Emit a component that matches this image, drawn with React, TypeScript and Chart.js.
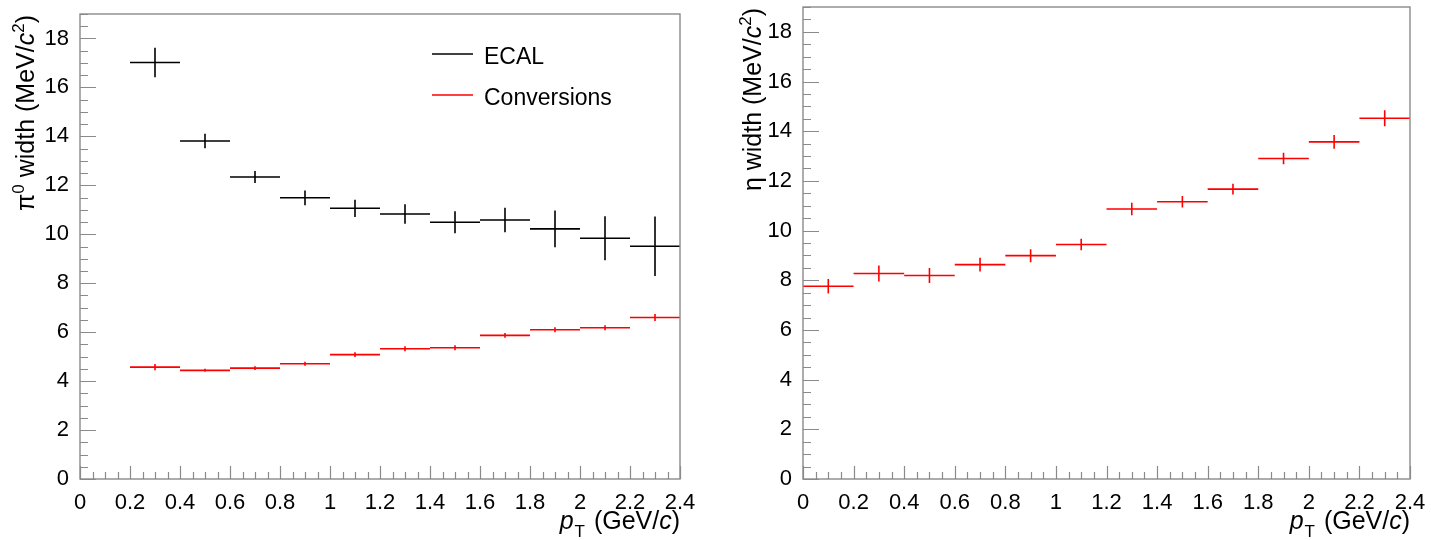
import React, { useEffect, useRef } from "react";
import { Chart, registerables } from "chart.js";

Chart.register(...registerables);

// ---------------- data ----------------
const binHalfWidth = 0.1;

const xTickValues = [0, 0.2, 0.4, 0.6, 0.8, 1, 1.2, 1.4, 1.6, 1.8, 2, 2.2, 2.4];
const xTickLabels = ["0", "0.2", "0.4", "0.6", "0.8", "1", "1.2", "1.4", "1.6", "1.8", "2", "2.2", "2.4"];
const yTickValues = [0, 2, 4, 6, 8, 10, 12, 14, 16, 18];
const yTickLabels = ["0", "2", "4", "6", "8", "10", "12", "14", "16", "18"];
const xMinorStep = 0.05;
const yMinorStep = 0.5;
const xMax = 2.4;
const yMax = 19;

const seriesLabels = ["ECAL", "Conversions"];

const pi0Pt = [0.3, 0.5, 0.7, 0.9, 1.1, 1.3, 1.5, 1.7, 1.9, 2.1, 2.3];
const ecalWidth = [17.02, 13.81, 12.34, 11.49, 11.06, 10.83, 10.49, 10.58, 10.22, 9.84, 9.51];
const ecalErr = [0.6, 0.3, 0.25, 0.3, 0.35, 0.4, 0.45, 0.5, 0.75, 0.9, 1.22];
const convWidth = [4.57, 4.44, 4.53, 4.71, 5.08, 5.32, 5.36, 5.87, 6.1, 6.18, 6.6];
const convErr = [0.13, 0.06, 0.08, 0.08, 0.1, 0.1, 0.1, 0.1, 0.1, 0.1, 0.14];

const etaPt = [0.1, 0.3, 0.5, 0.7, 0.9, 1.1, 1.3, 1.5, 1.7, 1.9, 2.1, 2.3];
const etaWidth = [7.76, 8.27, 8.19, 8.63, 8.99, 9.44, 10.87, 11.16, 11.67, 12.9, 13.57, 14.52];
const etaErr = [0.29, 0.32, 0.3, 0.28, 0.26, 0.23, 0.25, 0.23, 0.22, 0.23, 0.28, 0.32];

// ---------------- style ----------------
const FONT = '"Liberation Sans", Arial, Helvetica, sans-serif';
const FRAME_COLOR = "#8a8a8a";
const BLACK = "#000000";
const RED = "#ff0000";

type Seg = { t: string; s?: "i" | "sup" | "sub"; gap?: number };

const pi0Title: Seg[] = [
  { t: "\u03c0" },
  { t: "0", s: "sup" },
  { t: " width (MeV/" },
  { t: "c", s: "i" },
  { t: "2", s: "sup" },
  { t: ")" },
];
const etaTitle: Seg[] = [
  { t: "\u03b7 width (MeV/" },
  { t: "c", s: "i" },
  { t: "2", s: "sup" },
  { t: ")" },
];
const ptTitle: Seg[] = [
  { t: "p", s: "i", gap: 1 },
  { t: "T", s: "sub", gap: 2 },
  { t: " (GeV/" },
  { t: "c", s: "i" },
  { t: ")" },
];

function segFont(size: number, s?: string) {
  const sz = s === "sup" || s === "sub" ? Math.round(size * 0.68) : size;
  return `${s === "i" ? "italic " : ""}${sz}px ${FONT}`;
}

function drawRich(ctx: CanvasRenderingContext2D, segs: Seg[], size: number, xEnd: number, yBase: number) {
  const widths = segs.map((g) => {
    ctx.font = segFont(size, g.s);
    return ctx.measureText(g.t).width + (g.gap || 0);
  });
  const total = widths.reduce((a, b) => a + b, 0);
  let x = xEnd - total;
  ctx.textAlign = "left";
  ctx.textBaseline = "alphabetic";
  segs.forEach((g, i) => {
    ctx.font = segFont(size, g.s);
    const dy = g.s === "sup" ? -size * 0.42 : g.s === "sub" ? size * 0.3 : 0;
    ctx.fillText(g.t, x, yBase + dy);
    x += widths[i];
  });
}

function errorBarPoints(xs: number[], ys: number[], es: number[]) {
  const pts: { x: number; y: number | null }[] = [];
  xs.forEach((x, i) => {
    pts.push({ x: x - binHalfWidth, y: ys[i] });
    pts.push({ x: x + binHalfWidth, y: ys[i] });
    pts.push({ x: x + binHalfWidth, y: null });
    pts.push({ x, y: ys[i] - es[i] });
    pts.push({ x, y: ys[i] + es[i] });
    pts.push({ x, y: null });
  });
  return pts;
}

type PanelCfg = {
  width: number;
  height: number;
  area: { left: number; right: number; top: number; bottom: number };
  yTitle: Seg[];
  yTitleX: number;
  legend: boolean;
  datasets: any[];
};

function makePlugin(cfg: PanelCfg) {
  return {
    id: "rootStyle",
    afterDraw(chart: any) {
      const { ctx, chartArea: a } = chart;
      const xs = chart.scales.x;
      const ys = chart.scales.y;
      ctx.save();
      // frame
      ctx.strokeStyle = FRAME_COLOR;
      ctx.lineWidth = 1.4;
      ctx.strokeRect(a.left, a.top, a.right - a.left, a.bottom - a.top);
      // ticks
      ctx.beginPath();
      const nx = Math.round((xMax - 0) / xMinorStep);
      for (let i = 0; i <= nx; i++) {
        const px = Math.round(xs.getPixelForValue(i * xMinorStep)) + 0.5;
        const len = i % 4 === 0 ? 13 : 7;
        ctx.moveTo(px, a.bottom);
        ctx.lineTo(px, a.bottom - len);
      }
      const ny = Math.round(yMax / yMinorStep);
      for (let i = 0; i <= ny; i++) {
        const py = Math.round(ys.getPixelForValue(i * yMinorStep)) + 0.5;
        const len = i % 4 === 0 ? 16 : 8;
        ctx.moveTo(a.left, py);
        ctx.lineTo(a.left + len, py);
      }
      ctx.lineWidth = 1.2;
      ctx.stroke();

      // axis titles
      ctx.fillStyle = "#000";
      drawRich(ctx, ptTitle, 25, a.right, 529);
      ctx.save();
      ctx.translate(cfg.yTitleX, a.top + 1);
      ctx.rotate(-Math.PI / 2);
      drawRich(ctx, cfg.yTitle, 25, 0, 0);
      ctx.restore();

      // legend
      if (cfg.legend) {
        const entries = chart.data.datasets.filter((d: any) => d.label);
        entries.forEach((d: any, i: number) => {
          const yLine = 54 + i * 41;
          ctx.strokeStyle = d.borderColor;
          ctx.lineWidth = 1.5;
          ctx.beginPath();
          ctx.moveTo(432, yLine);
          ctx.lineTo(473, yLine);
          ctx.stroke();
          ctx.fillStyle = "#000";
          ctx.font = `23px ${FONT}`;
          ctx.textAlign = "left";
          ctx.textBaseline = "alphabetic";
          ctx.fillText(d.label, 484, yLine + 10);
        });
      }
      ctx.restore();
    },
  };
}

function Panel({ cfg, left }: { cfg: PanelCfg; left: number }) {
  const ref = useRef<HTMLCanvasElement>(null);
  useEffect(() => {
    if (!ref.current) return;
    const a = cfg.area;
    const chart = new Chart(ref.current, {
      type: "scatter",
      data: { datasets: cfg.datasets },
      options: {
        animation: false,
        responsive: false,
        devicePixelRatio: 1,
        layout: { padding: { left: 0, top: a.top, right: cfg.width - a.right, bottom: 0 } },
        plugins: { legend: { display: false }, tooltip: { enabled: false } },
        elements: { point: { radius: 0, hoverRadius: 0 } },
        scales: {
          x: {
            type: "linear",
            min: 0,
            max: xMax,
            grid: { display: false },
            border: { display: false },
            afterBuildTicks: (s: any) => {
              s.ticks = xTickValues.map((v) => ({ value: v }));
            },
            afterFit: (s: any) => {
              s.height = cfg.height - a.bottom;
              s.paddingLeft = 0;
              s.paddingRight = 0;
            },
            ticks: {
              autoSkip: false,
              maxRotation: 0,
              padding: 3,
              color: "#000",
              font: { family: FONT, size: 22 },
              callback: (_v: any, i: number) => xTickLabels[i],
            },
          },
          y: {
            type: "linear",
            min: 0,
            max: yMax,
            grid: { display: false },
            border: { display: false },
            afterBuildTicks: (s: any) => {
              s.ticks = yTickValues.map((v) => ({ value: v }));
            },
            afterFit: (s: any) => {
              s.width = a.left;
              s.paddingTop = 0;
              s.paddingBottom = 0;
            },
            ticks: {
              autoSkip: false,
              padding: 3,
              color: "#000",
              font: { family: FONT, size: 22 },
              callback: (_v: any, i: number) => yTickLabels[i],
            },
          },
        },
      } as any,
      plugins: [makePlugin(cfg)],
    });
    return () => chart.destroy();
  }, [cfg]);
  return (
    <canvas
      ref={ref}
      width={cfg.width}
      height={cfg.height}
      style={{ position: "absolute", left, top: 0, width: cfg.width, height: cfg.height }}
    />
  );
}

function lineDs(label: string | undefined, color: string, pts: any[]) {
  return {
    label,
    data: pts,
    showLine: true,
    spanGaps: false,
    borderColor: color,
    backgroundColor: color,
    borderWidth: 1.6,
    borderCapStyle: "butt",
    pointRadius: 0,
    tension: 0,
  };
}

const leftCfg: PanelCfg = {
  width: 720,
  height: 540,
  area: { left: 80, right: 680, top: 14, bottom: 479 },
  yTitle: pi0Title,
  yTitleX: 34,
  legend: true,
  datasets: [
    lineDs(seriesLabels[0], BLACK, errorBarPoints(pi0Pt, ecalWidth, ecalErr)),
    lineDs(seriesLabels[1], RED, errorBarPoints(pi0Pt, convWidth, convErr)),
  ],
};

const rightCfg: PanelCfg = {
  width: 711,
  height: 540,
  area: { left: 83, right: 690, top: 7, bottom: 479 },
  yTitle: etaTitle,
  yTitleX: 41,
  legend: false,
  datasets: [lineDs(undefined, RED, errorBarPoints(etaPt, etaWidth, etaErr))],
};

export default function App() {
  return (
    <div style={{ position: "absolute", left: 0, top: 0, width: 1431, height: 540, background: "#fff", overflow: "hidden" }}>
      <Panel cfg={leftCfg} left={0} />
      <Panel cfg={rightCfg} left={720} />
    </div>
  );
}
